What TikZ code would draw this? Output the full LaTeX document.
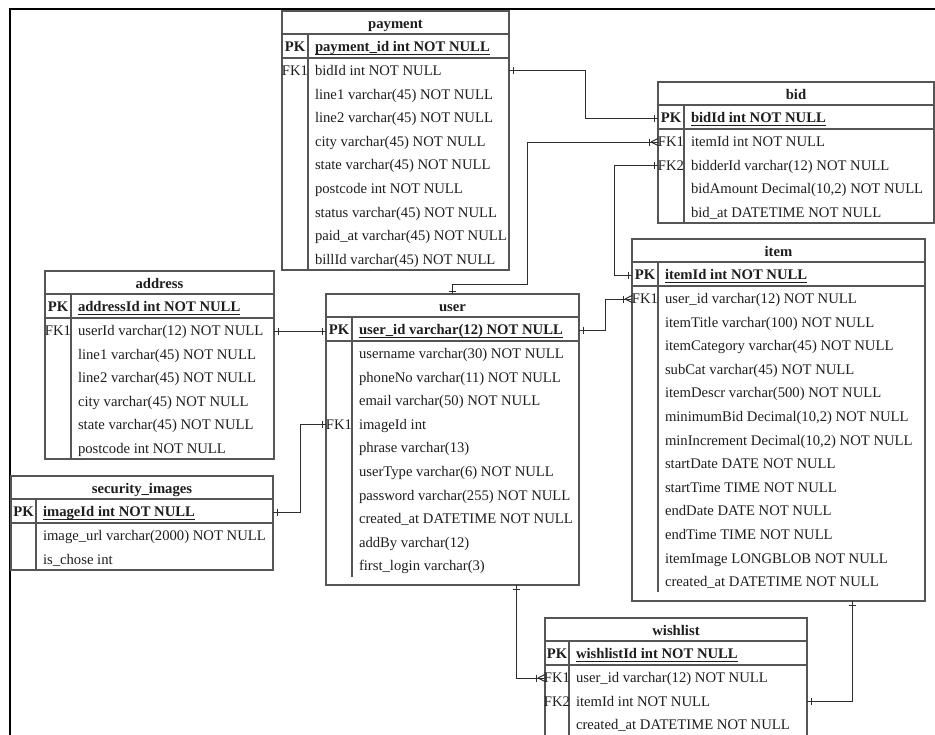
\documentclass[tikz,border=0pt]{standalone}
\usepackage{fontspec}
\setmainfont{Liberation Serif}
\usetikzlibrary{calc}

\definecolor{boxgray}{HTML}{555555}
\definecolor{inkgray}{HTML}{1E1E1E}
\definecolor{linegray}{HTML}{2E2E2E}

\tikzset{
  tblbox/.style={draw=boxgray, line width=0.9pt, inner sep=0pt, outer sep=0pt, anchor=north west},
  sepline/.style={draw=boxgray, line width=0.9pt},
  uline/.style={draw=inkgray, line width=0.7pt},
  fieldtxt/.style={inner sep=0pt, outer sep=0pt, anchor=west, text=inkgray,
    font=\fontsize{11}{13}\selectfont, text height=9.3pt, text depth=2.5pt},
  boldtxt/.style={fieldtxt, font=\fontsize{11}{13}\selectfont\bfseries},
  keytxt/.style={fieldtxt, anchor=center},
  pkkeytxt/.style={boldtxt, anchor=center},
  titletxt/.style={boldtxt, anchor=center},
  conn/.style={draw=linegray, line width=0.75pt},
  frameline/.style={draw=black, line width=1.6pt},
}

% table: name, left, top, right, bottom, key-column x, key-column end, title, primary key
\newcommand\ertable[9]{%
  \node[tblbox, minimum width={(#4-#2)*0.75pt}, minimum height={(#5-#3)*0.75pt}] (#1) at (#2,#3) {};
  \draw[sepline] (#2,#3+23) -- (#4,#3+23) (#2,#3+47) -- (#4,#3+47) (#6,#3+23) -- (#6,#7);
  \coordinate (#1-sep) at (#6,#3);
  \node[titletxt] (#1-title) at ({(#2+#4)/2},#3+13) {#8};
  \node[pkkeytxt] (#1-pkkey) at ({(#2+#6)/2},#3+36) {PK};
  \node[boldtxt] (#1-pk) at (#6+7,#3+36) {#9};
  \draw[uline] ([yshift=-1.9pt]#1-pk.base west) -- ([yshift=-1.9pt]#1-pk.base east);
}
% field row: table, index, key label, text
\newcommand\erow[4]{%
  \node[fieldtxt] (#1-r#2) at ($(#1-sep)+(7,{60+(#2-1)*23.6})$) {#4};
  \node[keytxt] (#1-k#2) at ($(#1.north west)!0.5!(#1-sep)+(0,{60+(#2-1)*23.6})$) {#3};
}
% "one" tick across a horizontal line end, and across a vertical line end
\newcommand\tickx[2]{\draw[conn] ($(#1)+(#2,-3.5)$) -- ++(0,7);}
\newcommand\ticky[2]{\draw[conn] ($(#1)+(-3.5,#2)$) -- ++(7,0);}
% crow's foot at a line end entering a table from the left (#2=-1) or right (#2=1)
\newcommand\crowx[2]{%
  \draw[conn] ($(#1)+(#2*7,0)$) -- ($(#1)+(0,-3.5)$)
              ($(#1)+(#2*7,0)$) -- ($(#1)+(0,3.5)$);
  \draw[conn] ($(#1)+(#2*9,-3.5)$) -- ++(0,7);}

\begin{document}
\begin{tikzpicture}[x=0.75pt, y=-0.75pt]
\clip (0,0) rectangle (935,735);
\fill[white] (0,0) rectangle (935,735);

% page frame
\draw[frameline] (10,740) -- (10,9) -- (940,9);

% payment
\ertable{payment}{282}{11}{509}{270}{308}{270}{payment}{payment\_id int NOT NULL}
\erow{payment}{1}{FK1}{bidId int NOT NULL}
\erow{payment}{2}{}{line1 varchar(45) NOT NULL}
\erow{payment}{3}{}{line2 varchar(45) NOT NULL}
\erow{payment}{4}{}{city varchar(45) NOT NULL}
\erow{payment}{5}{}{state varchar(45) NOT NULL}
\erow{payment}{6}{}{postcode int NOT NULL}
\erow{payment}{7}{}{status varchar(45) NOT NULL}
\erow{payment}{8}{}{paid\_at varchar(45) NOT NULL}
\erow{payment}{9}{}{billId varchar(45) NOT NULL}

% bid
\ertable{bid}{658}{82}{934}{223}{684}{223}{bid}{bidId int NOT NULL}
\erow{bid}{1}{FK1}{itemId int NOT NULL}
\erow{bid}{2}{FK2}{bidderId varchar(12) NOT NULL}
\erow{bid}{3}{}{bidAmount Decimal(10,2) NOT NULL}
\erow{bid}{4}{}{bid\_at DATETIME NOT NULL}

% item
\ertable{item}{632}{239}{925}{601}{658}{592}{item}{itemId int NOT NULL}
\erow{item}{1}{FK1}{user\_id varchar(12) NOT NULL}
\erow{item}{2}{}{itemTitle varchar(100) NOT NULL}
\erow{item}{3}{}{itemCategory varchar(45) NOT NULL}
\erow{item}{4}{}{subCat varchar(45) NOT NULL}
\erow{item}{5}{}{itemDescr varchar(500) NOT NULL}
\erow{item}{6}{}{minimumBid Decimal(10,2) NOT NULL}
\erow{item}{7}{}{minIncrement Decimal(10,2) NOT NULL}
\erow{item}{8}{}{startDate DATE NOT NULL}
\erow{item}{9}{}{startTime TIME NOT NULL}
\erow{item}{10}{}{endDate DATE NOT NULL}
\erow{item}{11}{}{endTime TIME NOT NULL}
\erow{item}{12}{}{itemImage LONGBLOB NOT NULL}
\erow{item}{13}{}{created\_at DATETIME NOT NULL}

% address
\ertable{address}{45}{271}{274}{459}{71}{459}{address}{addressId int NOT NULL}
\erow{address}{1}{FK1}{userId varchar(12) NOT NULL}
\erow{address}{2}{}{line1 varchar(45) NOT NULL}
\erow{address}{3}{}{line2 varchar(45) NOT NULL}
\erow{address}{4}{}{city varchar(45) NOT NULL}
\erow{address}{5}{}{state varchar(45) NOT NULL}
\erow{address}{6}{}{postcode int NOT NULL}

% security_images
\ertable{sec}{11}{476}{273}{570}{36}{570}{security\_images}{imageId int NOT NULL}
\erow{sec}{1}{}{image\_url varchar(2000) NOT NULL}
\erow{sec}{2}{}{is\_chose int}

% user
\ertable{user}{326}{294}{579}{585}{352}{577}{user}{user\_id varchar(12) NOT NULL}
\erow{user}{1}{}{username varchar(30) NOT NULL}
\erow{user}{2}{}{phoneNo varchar(11) NOT NULL}
\erow{user}{3}{}{email varchar(50) NOT NULL}
\erow{user}{4}{FK1}{imageId int}
\erow{user}{5}{}{phrase varchar(13)}
\erow{user}{6}{}{userType varchar(6) NOT NULL}
\erow{user}{7}{}{password varchar(255) NOT NULL}
\erow{user}{8}{}{created\_at DATETIME NOT NULL}
\erow{user}{9}{}{addBy varchar(12)}
\erow{user}{10}{}{first\_login varchar(3)}

% wishlist
\ertable{wishlist}{545}{618}{807}{750}{569}{750}{wishlist}{wishlistId int NOT NULL}
\erow{wishlist}{1}{FK1}{user\_id varchar(12) NOT NULL}
\erow{wishlist}{2}{FK2}{itemId int NOT NULL}
\erow{wishlist}{3}{}{created\_at DATETIME NOT NULL}

% payment.bidId -> bid.bidId
\coordinate (c1a) at (payment.east |- payment-r1);
\coordinate (c1b) at (bid.west |- bid-pkkey);
\draw[conn] (c1a) -- ++(76,0) |- (c1b);
\tickx{c1a}{4}\tickx{c1b}{-4}

% user -> bid.itemId
\coordinate (c2a) at ($(user.north west)+(126,0)$);
\coordinate (c2b) at (bid.west |- bid-r1);
\draw[conn] (c2a) -- ++(0,-10) -- ++(75,0) |- (c2b);
\ticky{c2a}{-3}\crowx{c2b}{-1}

% item.itemId -> bid.bidderId
\coordinate (c3a) at (item.west |- item-pkkey);
\coordinate (c3b) at (bid.west |- bid-r2);
\draw[conn] (c3a) -- ++(-18,0) |- (c3b);
\tickx{c3a}{-4}\tickx{c3b}{-4}

% user.user_id -> item.user_id
\coordinate (c4a) at (user.east |- user-pkkey);
\coordinate (c4b) at (item.west |- item-r1);
\draw[conn] (c4a) -- ++(26,0) |- (c4b);
\tickx{c4a}{4}\crowx{c4b}{-1}

% address.userId -> user.user_id
\coordinate (c5a) at (address.east |- address-r1);
\coordinate (c5b) at (user.west |- address-r1);
\draw[conn] (c5a) -- (c5b);
\tickx{c5a}{4}\tickx{c5b}{-4}

% security_images.imageId -> user.imageId
\coordinate (c6a) at (sec.east |- sec-pkkey);
\coordinate (c6b) at (user.west |- user-r4);
\draw[conn] (c6a) -- ++(27,0) |- (c6b);
\tickx{c6a}{4}\tickx{c6b}{-4}

% user -> wishlist.user_id
\coordinate (c7a) at ($(user.south west)+(190,0)$);
\coordinate (c7b) at (wishlist.west |- wishlist-r1);
\draw[conn] (c7a) |- (c7b);
\ticky{c7a}{4}\crowx{c7b}{-1}

% item -> wishlist.itemId
\coordinate (c8a) at ($(item.south west)+(220,0)$);
\coordinate (c8b) at (wishlist.east |- wishlist-r2);
\draw[conn] (c8a) |- (c8b);
\ticky{c8a}{4}\tickx{c8b}{4}
\end{tikzpicture}
\end{document}
